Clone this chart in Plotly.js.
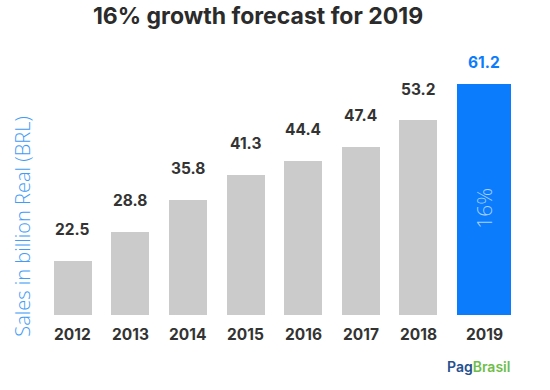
<!DOCTYPE html>
<html>
<head>
<meta charset="utf-8">
<script src="https://cdn.plot.ly/plotly-3.0.1.min.js"></script>
<style>html,body{margin:0;padding:0;background:#fff;}#chart{width:550px;height:390px;}</style>
</head>
<body>
<div id="chart"></div>
<script>
const years = ['2012','2013','2014','2015','2016','2017','2018','2019'];
const sales = [22.5, 28.8, 35.8, 41.3, 44.4, 47.4, 53.2, 61.2];
const valueLabels = ['22.5','28.8','35.8','41.3','44.4','47.4','53.2','61.2'];
const growthLabel = '16%';
const titleText = '16% growth forecast for 2019';
const yTitle = 'Sales in billion Real (BRL)';

const gray = '#cbcbcb';
const blue = '#0b7cfc';
const isForecast = years.map((y, i) => i === years.length - 1);
const yRange = [10.6, 66.4];

const colors = isForecast.map(f => f ? blue : gray);
const widths = isForecast.map(f => f ? 0.94 : 0.66);
const offsets = isForecast.map(f => f ? -0.322 : -0.33);
const shifts = isForecast.map(f => f ? 8.5 : 0);

const trace = {
  type: 'bar',
  x: years,
  y: sales,
  marker: {color: colors, line: {width: 0}},
  width: widths,
  offset: offsets,
  hoverinfo: 'skip'
};

const annotations = [];
years.forEach((yr, i) => {
  annotations.push({
    x: i, y: sales[i], xref: 'x', yref: 'y',
    text: valueLabels[i], showarrow: false,
    xshift: shifts[i], yshift: isForecast[i] ? 21 : 31,
    font: {family: 'Inter, Roboto, sans-serif', size: 15.5, weight: 700, color: isForecast[i] ? blue : '#333333'}
  });
  annotations.push({
    x: i, y: 0, xref: 'x', yref: 'paper',
    text: yr, showarrow: false, yanchor: 'middle',
    xshift: shifts[i], yshift: -19,
    font: {family: 'Inter, Roboto, sans-serif', size: 15.5, weight: 700, color: '#333333'}
  });
});
const last = years.length - 1;
annotations.push({
  x: last, y: (yRange[0] + sales[last]) / 2, xref: 'x', yref: 'y',
  text: growthLabel, showarrow: false, textangle: -90,
  xshift: shifts[last], yshift: -9,
  font: {family: 'Open Sans, sans-serif', size: 21, weight: 300, color: '#a9d0ff'}
});
annotations.push({
  x: -0.077, y: 0.35, xref: 'paper', yref: 'paper',
  text: yTitle, showarrow: false, textangle: -90,
  font: {family: 'Open Sans, sans-serif', size: 20, weight: 300, color: '#3f9cf7'}
});
annotations.push({
  x: 0.986, y: -0.2, xref: 'paper', yref: 'paper', xanchor: 'right', yanchor: 'middle',
  text: '<span style="color:#24508f">Pag</span><span style="color:#6fbd4b">Brasil</span>',
  showarrow: false,
  font: {family: 'Inter, Roboto, sans-serif', size: 14, weight: 600}
});

const layout = {
  width: 550, height: 390,
  margin: {l: 44.25, r: 31.4, t: 60, b: 75, pad: 0},
  paper_bgcolor: '#ffffff', plot_bgcolor: '#ffffff',
  showlegend: false,
  title: {
    text: titleText, x: 258/550, xref: 'container', xanchor: 'center',
    y: 1 - 16/390, yref: 'container', yanchor: 'middle',
    font: {family: 'Inter, Roboto, sans-serif', size: 23, weight: 700, color: '#2b2b2b'}
  },
  xaxis: {type: 'category', range: [-0.5, 7.75], showticklabels: false, showgrid: false, zeroline: false, showline: false, ticks: '', fixedrange: true},
  yaxis: {range: yRange, showticklabels: false, showgrid: false, zeroline: false, showline: false, ticks: '', fixedrange: true},
  annotations: annotations,
  bargap: 0
};

Plotly.newPlot('chart', [trace], layout, {displayModeBar: false, staticPlot: true});
</script>
</body>
</html>
